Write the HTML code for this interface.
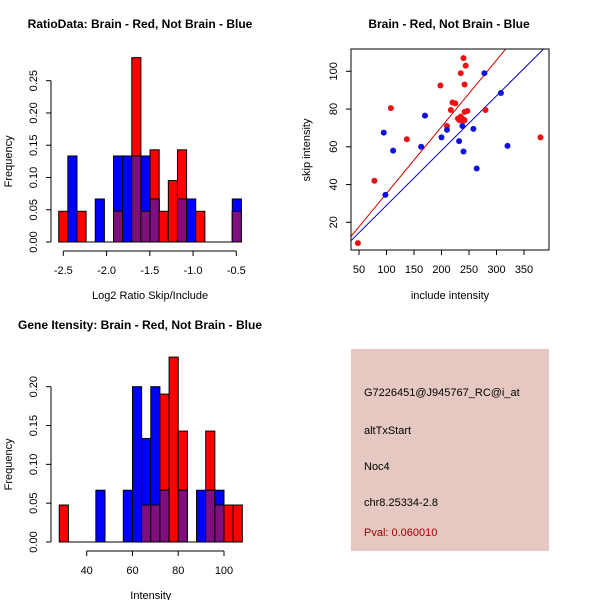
<!DOCTYPE html>
<html><head><meta charset="utf-8"><style>
body{margin:0;background:#fff}
svg{display:block;font-family:"Liberation Sans",sans-serif}
</style></head><body>
<svg id="c" width="600" height="600" xmlns="http://www.w3.org/2000/svg">
<rect width="600" height="600" fill="#fff"/>
<text x="140" y="28" text-anchor="middle" font-size="12" font-weight="bold">RatioData: Brain - Red, Not Brain - Blue</text>
<text x="449" y="28" text-anchor="middle" font-size="12" font-weight="bold">Brain - Red, Not Brain - Blue</text>
<text x="140" y="329" text-anchor="middle" font-size="12" font-weight="bold">Gene Itensity: Brain - Red, Not Brain - Blue</text>
<g id="p1"></g>
<g id="p2"></g>
<g id="p3"></g>
<g>
<rect x="351" y="349" width="198" height="202" fill="#e6c8c2"/>
<text x="364" y="396" font-size="11">G7226451@J945767_RC@i_at</text>
<text x="364" y="434" font-size="11">altTxStart</text>
<text x="364" y="470" font-size="11">Noc4</text>
<text x="364" y="506" font-size="11">chr8.25334-2.8</text>
<text x="364" y="536" font-size="11" fill="#a00000">Pval: 0.060010</text>
</g>
</svg>
<script>
const ratioBreakStart = -2.553, ratioBinWidth = 0.1056;
const ratioRedCounts = [1,0,1,0,0,0,1,0,6,1,3,1,2,3,0,1,0,0,0,1];
const ratioBlueCounts = [0,2,0,0,1,0,2,2,2,2,1,0,0,1,1,0,0,0,0,1];
const ratioXTicks = [-2.5,-2.0,-1.5,-1.0,-0.5];
const ratioXLabels = ["-2.5","-2.0","-1.5","-1.0","-0.5"];
const ratioYTicks = [0,0.05,0.10,0.15,0.20,0.25];
const ratioYLabels = ["0.00","0.05","0.10","0.15","0.20","0.25"];

const intBreakStart = 28, intBinWidth = 4;
const intRedCounts = [1,0,0,0,0,0,0,0,0,1,1,4,5,3,0,0,3,1,1,1];
const intBlueCounts = [0,0,0,0,1,0,0,1,3,2,3,1,0,1,0,1,1,1,0,0];
const intXTicks = [40,60,80,100];
const intXLabels = ["40","60","80","100"];
const intYTicks = [0,0.05,0.10,0.15,0.20];
const intYLabels = ["0.00","0.05","0.10","0.15","0.20"];

const redInclude = [48,78,108,137,198,210,217,220,225,230,233,235,238,240,242,235,240,244,242,242,247,280,380];
const redSkip = [9,42,80.5,64,92.5,71,79.5,83.5,83,75,74,76,74,74.5,74,99,107,103,93,78.5,79,79.5,65];
const blueInclude = [95,98,112,163,170,200,210,232,238,240,258,264,278,308,320];
const blueSkip = [67.5,34.5,58,60,76.5,65,69,63,71,57.5,69.5,48.5,99,88.5,60.5];
const redSlope = 0.353, blueSlope = 0.29;
const scXTicks = [50,100,150,200,250,300,350];
const scYTicks = [20,40,60,80,100];

const NS = "http://www.w3.org/2000/svg";
function mk(parent, tag, attrs){const e=document.createElementNS(NS,tag);for(const k in attrs)e.setAttribute(k,attrs[k]);parent.appendChild(e);return e;}
function lin(d0,d1,r0,r1){return v=>r0+(v-d0)*(r1-r0)/(d1-d0);}

function hist(g, breakStart, binW, red, blue, xs, ys, xTicks, xLabels, yTicks, yLabels, axisY, yAxisX, xLab){
  const nR=red.reduce((a,b)=>a+b,0), nB=blue.reduce((a,b)=>a+b,0);
  for(let i=0;i<red.length;i++){
    const x0=xs(breakStart+i*binW), x1=xs(breakStart+(i+1)*binW);
    const r=red[i]/nR, b=blue[i]/nB, m=Math.min(r,b);
    if(r>0){const e=mk(g,'rect',{x:x0,y:ys(r),width:x1-x0,height:ys(0)-ys(r),fill:'#ff0000',stroke:'#000','stroke-width':1});
      
      }
    if(b>0){const e=mk(g,'rect',{x:x0,y:ys(b),width:x1-x0,height:ys(0)-ys(b),fill:'#0000ff',stroke:'#000','stroke-width':1});
      
      }
    if(m>0){const e=mk(g,'rect',{x:x0,y:ys(m),width:x1-x0,height:ys(0)-ys(m),fill:'#7f0f7f',stroke:'#000','stroke-width':1});
      
      }
  }
  const x0=xs(breakStart), x1=xs(breakStart+red.length*binW);
  const base=mk(g,'line',{x1:x0,x2:x1,y1:ys(0),y2:ys(0),stroke:'#000'});
  
  
  const xa=mk(g,'line',{x1:xs(xTicks[0]),x2:xs(xTicks[xTicks.length-1]),y1:axisY,y2:axisY,stroke:'#000'});
  
  
  xTicks.forEach((t,i)=>{
    mk(g,'line',{x1:xs(t),x2:xs(t),y1:axisY,y2:axisY+5,stroke:'#000'});
    const tx=mk(g,'text',{x:xs(t),y:axisY+23,'text-anchor':'middle','font-size':11});
    tx.textContent=xLabels[i];
    
    
  });
  const ya=mk(g,'line',{x1:yAxisX,x2:yAxisX,y1:ys(yTicks[0]),y2:ys(yTicks[yTicks.length-1]),stroke:'#000'});
  
  
  yTicks.forEach((t,i)=>{
    mk(g,'line',{x1:yAxisX-5,x2:yAxisX,y1:ys(t),y2:ys(t),stroke:'#000'});
    const tx=mk(g,'text',{x:yAxisX-14,y:ys(t),'text-anchor':'middle','font-size':11,transform:`rotate(-90 ${yAxisX-14} ${ys(t)})`});
    tx.textContent=yLabels[i];
    
    
  });
  const xl=mk(g,'text',{x:(x0+x1)/2,y:axisY+48,'text-anchor':'middle','font-size':11});
  xl.textContent=xLab;
  
  
  const cy=(ys(0)+ys(yTicks[yTicks.length-1]))/2;
  const yl=mk(g,'text',{x:12,y:cy,'text-anchor':'middle','font-size':11,transform:`rotate(-90 12 ${cy})`});
  yl.textContent='Frequency';
  
  
}

hist(document.getElementById('p1'), ratioBreakStart, ratioBinWidth, ratioRedCounts, ratioBlueCounts,
  lin(-2.5,-0.5,63.3,236.3), lin(0,0.25,242,80.7), ratioXTicks, ratioXLabels, ratioYTicks, ratioYLabels, 251, 51, 'Log2 Ratio Skip/Include');
hist(document.getElementById('p3'), intBreakStart, intBinWidth, intRedCounts, intBlueCounts,
  lin(40,100,86.7,224), lin(0,0.2,542,386.7), intXTicks, intXLabels, intYTicks, intYLabels, 551, 51, 'Intensity');

// scatter
(function(){
  const g=document.getElementById('p2');
  const xs=lin(50,350,359,524), ys=lin(20,100,222.3,71.3);
  const L=351,R=549,T=49,B=250;
  const dMinX=(L-359)/0.55+50, dMaxX=(R-359)/0.55+50;
  const clip=mk(g,'clipPath',{id:'scclip'}); mk(clip,'rect',{x:L,y:T,width:R-L,height:B-T});
  const rl=mk(g,'line',{x1:xs(dMinX),y1:ys(redSlope*dMinX),x2:xs(dMaxX),y2:ys(redSlope*dMaxX),stroke:'#d00000','clip-path':'url(#scclip)'});
  
  
  const bl=mk(g,'line',{x1:xs(dMinX),y1:ys(blueSlope*dMinX),x2:xs(dMaxX),y2:ys(blueSlope*dMaxX),stroke:'#0000d0','clip-path':'url(#scclip)'});
  
  
  redInclude.forEach((v,i)=>{const c=mk(g,'circle',{cx:xs(v),cy:ys(redSkip[i]),r:3,fill:'#ee1111'});
    
    });
  blueInclude.forEach((v,i)=>{const c=mk(g,'circle',{cx:xs(v),cy:ys(blueSkip[i]),r:3,fill:'#1111dd'});
    
    });
  const box=mk(g,'rect',{x:L,y:T,width:R-L,height:B-T,fill:'none',stroke:'#000'});
  
  
  scXTicks.forEach(t=>{mk(g,'line',{x1:xs(t),x2:xs(t),y1:B,y2:B+5,stroke:'#000'});
    const tx=mk(g,'text',{x:xs(t),y:B+23,'text-anchor':'middle','font-size':11});tx.textContent=t;
    
    });
  scYTicks.forEach(t=>{mk(g,'line',{x1:L-5,x2:L,y1:ys(t),y2:ys(t),stroke:'#000'});
    const tx=mk(g,'text',{x:L-14,y:ys(t),'text-anchor':'middle','font-size':11,transform:`rotate(-90 ${L-14} ${ys(t)})`});tx.textContent=t;
    
    });
  const xl=mk(g,'text',{x:(L+R)/2,y:299,'text-anchor':'middle','font-size':11});xl.textContent='include intensity';
  
  
  const yl=mk(g,'text',{x:310,y:150,'text-anchor':'middle','font-size':11,transform:'rotate(-90 310 150)'});yl.textContent='skip intensity';
  
  
})();
</script>
</body></html>
